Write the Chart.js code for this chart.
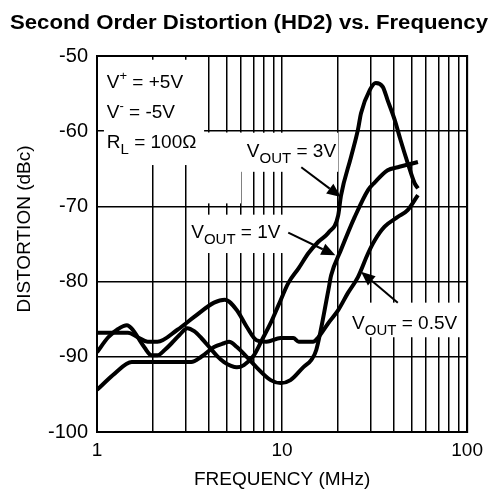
<!DOCTYPE html>
<html lang="en">
<head>
  <meta charset="UTF-8">
  <title>HD2 vs Frequency</title>
  <style>
    html,body{margin:0;padding:0;background:#fff;}
    #wrap{width:490px;height:493px;}
  </style>
</head>
<body>
  <div id="wrap"><canvas id="hd2" width="490" height="493"></canvas></div>
  <script src="https://cdn.jsdelivr.net/npm/chart.js"></script>
  <script>
    // frequency (MHz) / distortion (dBc)
    const freq3V = [1, 1.15, 1.3, 1.45, 1.56, 1.66, 1.81, 1.97, 2.12, 2.32, 2.53, 2.79, 3.08, 3.35, 3.66, 4.04, 4.46, 4.86, 5.3, 5.7, 6.22, 7.04, 7.77, 8.68, 9.58, 10.8, 12.3, 13.9, 15.7, 17.8, 20.1, 20.8, 23.6, 25.7, 26.7, 29.8, 32.1, 35.0, 37.2, 40.6, 43.7, 47.7, 52.0, 54.2]
    const hd3V = [-89.4, -87.4, -86.3, -85.8, -86.4, -87.4, -88.8, -89.8, -89.8, -89.1, -88.2, -87.1, -86.2, -86.6, -87.5, -88.7, -89.9, -90.7, -91.2, -91.4, -91.1, -89.8, -87.8, -85.5, -83.1, -80.2, -78.2, -76.2, -74.7, -73.5, -71.2, -68.6, -63.4, -59.8, -57.6, -54.5, -53.6, -54.1, -55.9, -58.5, -61.2, -64.2, -66.9, -67.6]

    const freq1V = [1, 1.25, 1.54, 2.0, 2.6, 3.23, 3.66, 4.29, 4.86, 5.17, 5.7, 6.44, 7.28, 8.68, 9.82, 11.1, 13.0, 14.4, 15.3, 17.8, 18.4, 20.8, 24.7, 29.2, 31.7, 37.2, 42.2, 54.2]
    const hd1V = [-94.4, -92.2, -90.7, -90.7, -90.7, -90.7, -90.0, -88.7, -88.2, -88.0, -88.7, -90.0, -91.4, -93.1, -93.5, -93.1, -91.4, -90.4, -89.1, -81.1, -79.2, -75.8, -71.4, -67.8, -66.8, -65.2, -64.8, -64.1]

    const freq05V = [1, 1.47, 1.66, 1.88, 2.12, 2.72, 3.35, 4.29, 4.9, 5.7, 6.44, 7.28, 8.23, 9.82, 11.5, 12.3, 14.7, 15.7, 17.8, 20.1, 22.7, 25.7, 29.2, 31.7, 35.8, 42.2, 47.7, 54.2]
    const hd05V = [-86.8, -86.8, -87.4, -88.0, -88.0, -86.4, -84.7, -82.8, -82.4, -83.8, -86.0, -87.8, -88.0, -87.5, -87.5, -88.0, -88.0, -87.4, -85.5, -83.8, -81.5, -79.4, -76.2, -74.5, -72.7, -71.4, -70.5, -68.5]

    const xTickValues = [1,2,3,4,5,6,7,8,9,10,20,30,40,50,60,70,80,90,100]
    const xTickLabels = {1:'1', 10:'10', 100:'100'}

    const FONT = '"Liberation Sans", Arial, Helvetica, sans-serif'

    function toPoints(xs, ys){
      return xs.map((x,i)=>({x:x, y:ys[i]}))
    }

    // text pieces: [text, kind] kind = '' | 'sup' | 'sub'
    const labels = [
      {f:1.13, db:-54.3, parts:[['V',''],['+','sup'],[' = +5V','']]},
      {f:1.13, db:-58.2, parts:[['V',''],['-','sup'],[' = -5V','']]},
      {f:1.13, db:-62.2, parts:[['R',''],['L','sub'],[' = 100\u03A9','']]},
      {f:6.45, db:-63.4, parts:[['V',''],['OUT','sub'],[' = 3V','']]},
      {f:3.23, db:-74.2, parts:[['V',''],['OUT','sub'],[' = 1V','']]},
      {f:23.9, db:-86.3, parts:[['V',''],['OUT','sub'],[' = 0.5V','']]}
    ]
    // white boxes that break the grid behind the labels [f0, f1, db0, db1]
    const boxes = [
      [1.09, 3.79, -50.5, -64.5],
      [3.70, 20.1, -60.2, -65.4],
      [3.70, 6.0, -60.2, -69.6],
      [3.07, 10.8, -71.1, -76.2],
      [22.7, 95, -82.8, -87.4]
    ]
    // arrows [tail f, tail db, tip f, tip db]
    const arrows = [
      [12.7, -64.8, 20.8, -68.75],
      [10.8, -73.5, 19.4, -76.5],
      [42.2, -82.8, 26.7, -78.7]
    ]

    function drawParts(ctx, x, y, parts){
      parts.forEach(p=>{
        let size = 19, dy = 0
        if(p[1]=='sup'){ size = 13; dy = -8 }
        if(p[1]=='sub'){ size = 15; dy = 6 }
        ctx.font = size + 'px ' + FONT
        ctx.fillText(p[0], x, y + dy)
        x += ctx.measureText(p[0]).width
      })
    }

    const annot = {
      id:'annot',
      beforeDatasetsDraw(chart){
        const ctx = chart.ctx, xs = chart.scales.x, ys = chart.scales.y
        ctx.save()
        ctx.fillStyle = '#fff'
        boxes.forEach(b=>{
          const x0 = xs.getPixelForValue(b[0]), x1 = xs.getPixelForValue(b[1])
          const y0 = ys.getPixelForValue(b[2]), y1 = ys.getPixelForValue(b[3])
          ctx.fillRect(x0, y0, x1-x0, y1-y0)
        })
        ctx.fillStyle = '#000'
        ctx.textBaseline = 'alphabetic'
        ctx.textAlign = 'left'
        labels.forEach(l=>{
          drawParts(ctx, xs.getPixelForValue(l.f), ys.getPixelForValue(l.db), l.parts)
        })
        ctx.restore()
      },
      afterDatasetsDraw(chart){
        const ctx = chart.ctx, xs = chart.scales.x, ys = chart.scales.y
        const a = chart.chartArea
        ctx.save()
        ctx.strokeStyle = '#000'
        ctx.fillStyle = '#000'
        arrows.forEach(r=>{
          const x0 = xs.getPixelForValue(r[0]), y0 = ys.getPixelForValue(r[1])
          const x1 = xs.getPixelForValue(r[2]), y1 = ys.getPixelForValue(r[3])
          const ang = Math.atan2(y1-y0, x1-x0)
          const hl = 14, hw = 6
          ctx.lineWidth = 2
          ctx.beginPath()
          ctx.moveTo(x0, y0)
          ctx.lineTo(x1 - Math.cos(ang)*hl, y1 - Math.sin(ang)*hl)
          ctx.stroke()
          ctx.beginPath()
          ctx.moveTo(x1, y1)
          ctx.lineTo(x1 - Math.cos(ang)*hl - Math.sin(ang)*hw, y1 - Math.sin(ang)*hl + Math.cos(ang)*hw)
          ctx.lineTo(x1 - Math.cos(ang)*hl + Math.sin(ang)*hw, y1 - Math.sin(ang)*hl - Math.cos(ang)*hw)
          ctx.closePath()
          ctx.fill()
        })
        // frame
        ctx.lineWidth = 2
        ctx.strokeRect(a.left, a.top, a.right-a.left, a.bottom-a.top)
        ctx.restore()
      },
      afterDraw(chart){
        const ctx = chart.ctx, a = chart.chartArea
        ctx.save()
        ctx.fillStyle = '#000'
        // title, squeezed to the width it has in the plot
        const t = 'Second Order Distortion (HD2) vs. Frequency'
        ctx.font = 'bold 20px ' + FONT
        const w = ctx.measureText(t).width
        const sx = 478 / w
        ctx.translate(249, 29)
        ctx.scale(sx, 1)
        ctx.textAlign = 'center'
        ctx.textBaseline = 'alphabetic'
        ctx.fillText(t, 0, 0)
        ctx.restore()

        ctx.save()
        ctx.fillStyle = '#000'
        ctx.font = '19px ' + FONT
        ctx.textAlign = 'center'
        ctx.textBaseline = 'middle'
        ctx.fillText('FREQUENCY (MHz)', (a.left+a.right)/2, 480)
        ctx.translate(25, 229)
        ctx.rotate(-Math.PI/2)
        ctx.fillText('DISTORTION (dBc)', 0, 0)
        ctx.restore()
      }
    }

    const ds = (data)=>({
      data: data,
      borderColor:'#000',
      borderWidth:4,
      pointRadius:0,
      fill:false,
      cubicInterpolationMode:'monotone'
    })

    new Chart(document.getElementById('hd2'), {
      type:'line',
      data:{
        datasets:[
          ds(toPoints(freq3V, hd3V)),
          ds(toPoints(freq1V, hd1V)),
          ds(toPoints(freq05V, hd05V))
        ]
      },
      options:{
        responsive:false,
        animation:false,
        devicePixelRatio:1,
        layout:{padding:{top:56, right:20, left:0, bottom:0}},
        plugins:{legend:{display:false}, tooltip:{enabled:false}, title:{display:false}},
        scales:{
          x:{
            type:'logarithmic',
            min:1, max:100,
            afterBuildTicks:(s)=>{ s.ticks = xTickValues.map(v=>({value:v})) },
            afterFit:(s)=>{ s.height = 61 },
            ticks:{
              autoSkip:false, maxRotation:0, padding:7, color:'#000',
              font:{family:FONT, size:19},
              callback:(v)=> xTickLabels[v] || ''
            },
            grid:{color:'#000', lineWidth:1.5, drawTicks:false},
            border:{display:false}
          },
          y:{
            min:-100, max:-50,
            afterFit:(s)=>{ s.width = 97 },
            ticks:{stepSize:10, padding:9, color:'#000', font:{family:FONT, size:20}},
            grid:{color:'#000', lineWidth:1.5, drawTicks:false},
            border:{display:false}
          }
        }
      },
      plugins:[annot]
    })
  </script>
</body>
</html>
